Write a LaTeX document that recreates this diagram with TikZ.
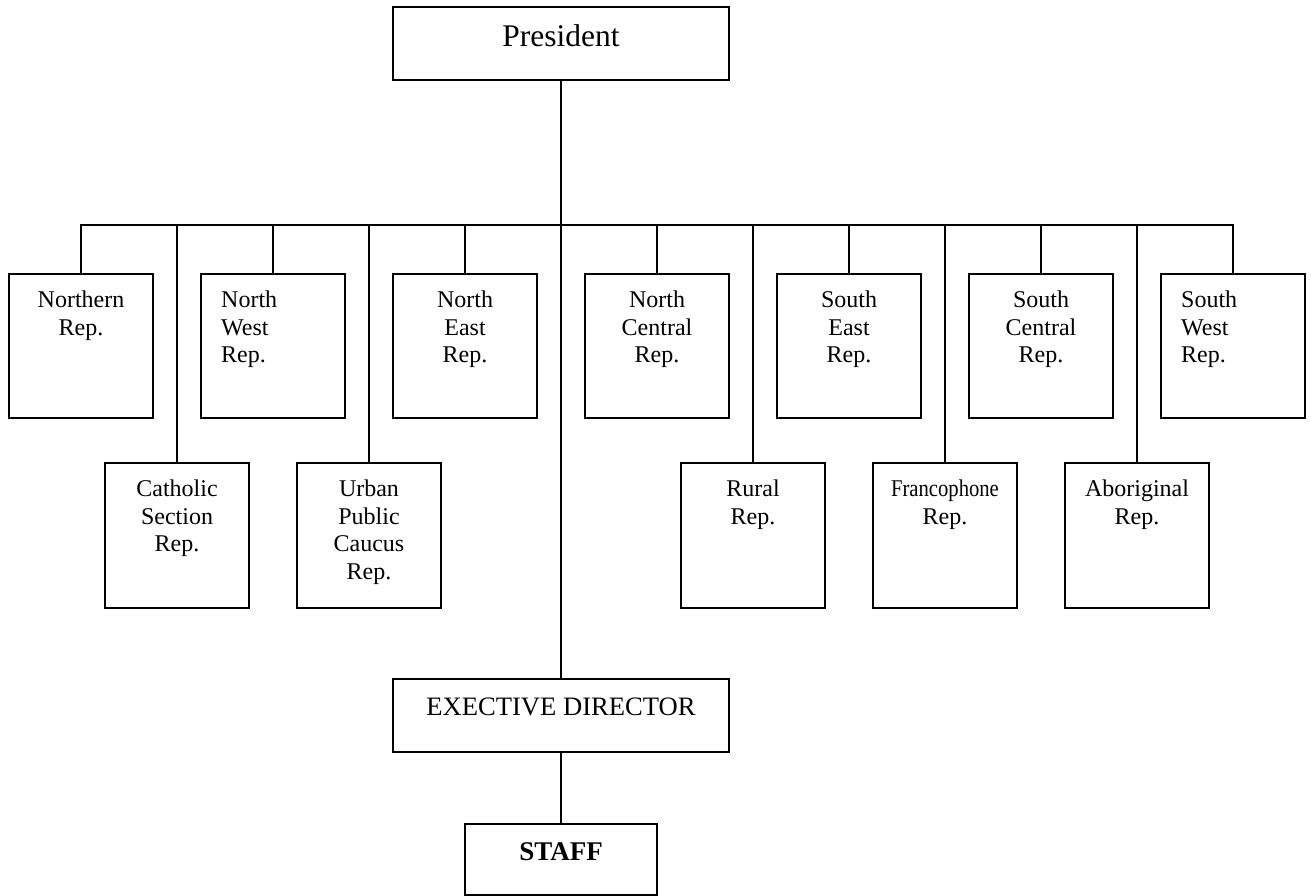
\documentclass[tikz,border=0pt]{standalone}
\usepackage{fontspec}
\setmainfont{Liberation Serif}
\usepackage{graphicx}
\begin{document}
\begin{tikzpicture}[x=1pt,y=-1pt,
  box/.style={draw,line width=2pt,rectangle,minimum width=144pt,minimum height=144pt,inner sep=0pt},
  wide/.style={draw,line width=2pt,rectangle,inner sep=0pt},
  lbl/.style={font=\fontsize{24}{27.7}\selectfont,align=center,inner sep=0pt,anchor=north},
  lbll/.style={font=\fontsize{24}{27.7}\selectfont,align=left,inner sep=0pt,anchor=north west},
  ln/.style={line width=2pt}]
\useasboundingbox (0,0) rectangle (1311,896);
% top-level
\node[wide,minimum width=336pt,minimum height=73pt] (pres) at (561,43.5) {};
\node[font=\fontsize{31.5}{36}\selectfont,inner sep=0pt,anchor=base] (prest) at (561,47) {President};
% first row
\node[box] (nor) at (81,346) {};
\node[box] (nw) at (273,346) {};
\node[box] (ne) at (465,346) {};
\node[box] (nc) at (657,346) {};
\node[box] (se) at (849,346) {};
\node[box] (sc) at (1041,346) {};
\node[box] (sw) at (1233,346) {};
\node[lbl] (nort) at (81,290.5) {Northern\\Rep.};
\node[lbll] (nwt) at (221,290.5) {North\\West\\Rep.};
\node[lbl] (net) at (465,290.5) {North\\East\\Rep.};
\node[lbl] (nct) at (657,290.5) {North\\Central\\Rep.};
\node[lbl] (set) at (849,290.5) {South\\East\\Rep.};
\node[lbl] (sct) at (1041,290.5) {South\\Central\\Rep.};
\node[lbll] (swt) at (1181,290.5) {South\\West\\Rep.};
% second row
\node[box,minimum height=145pt] (cat) at (177,535.5) {};
\node[box,minimum height=145pt] (urb) at (369,535.5) {};
\node[box,minimum height=145pt] (rur) at (753,535.5) {};
\node[box,minimum height=145pt] (fra) at (945,535.5) {};
\node[box,minimum height=145pt] (abo) at (1137,535.5) {};
\node[lbl] (catt) at (177,479.5) {Catholic\\Section\\Rep.};
\node[lbl] (urbt) at (369,479.5) {Urban\\Public\\Caucus\\Rep.};
\node[lbl] (rurt) at (753,479.5) {Rural\\Rep.};
\node[lbl] (frat) at (945,479.5) {\scalebox{0.86}[1]{Francophone}\\Rep.};
\node[lbl] (abot) at (1137,479.5) {Aboriginal\\Rep.};
% director and staff
\node[wide,minimum width=336pt,minimum height=73pt] (ed) at (561,715.5) {};
\node[font=\fontsize{26.6}{30}\selectfont,inner sep=0pt,anchor=base] (edt) at (561,715) {EXECTIVE DIRECTOR};
\node[wide,minimum width=192pt,minimum height=71pt] (staff) at (561,859.5) {};
\node[font=\fontsize{27}{30}\selectfont\bfseries,inner sep=0pt,anchor=base] (stafft) at (561,860) {STAFF};
% connectors
\coordinate (busL) at (81,225);
\coordinate (busR) at (1233,225);
\draw[ln,line cap=rect] (busL) -- (busR);
\draw[ln] (pres.south) -- (ed.north);
\foreach \n in {nor,nw,ne,nc,se,sc,sw,cat,urb,rur,fra,abo}
  \draw[ln] (\n.north |- busL) -- (\n.north);
\draw[ln] (ed.south) -- (staff.north);
\end{tikzpicture}
\end{document}
